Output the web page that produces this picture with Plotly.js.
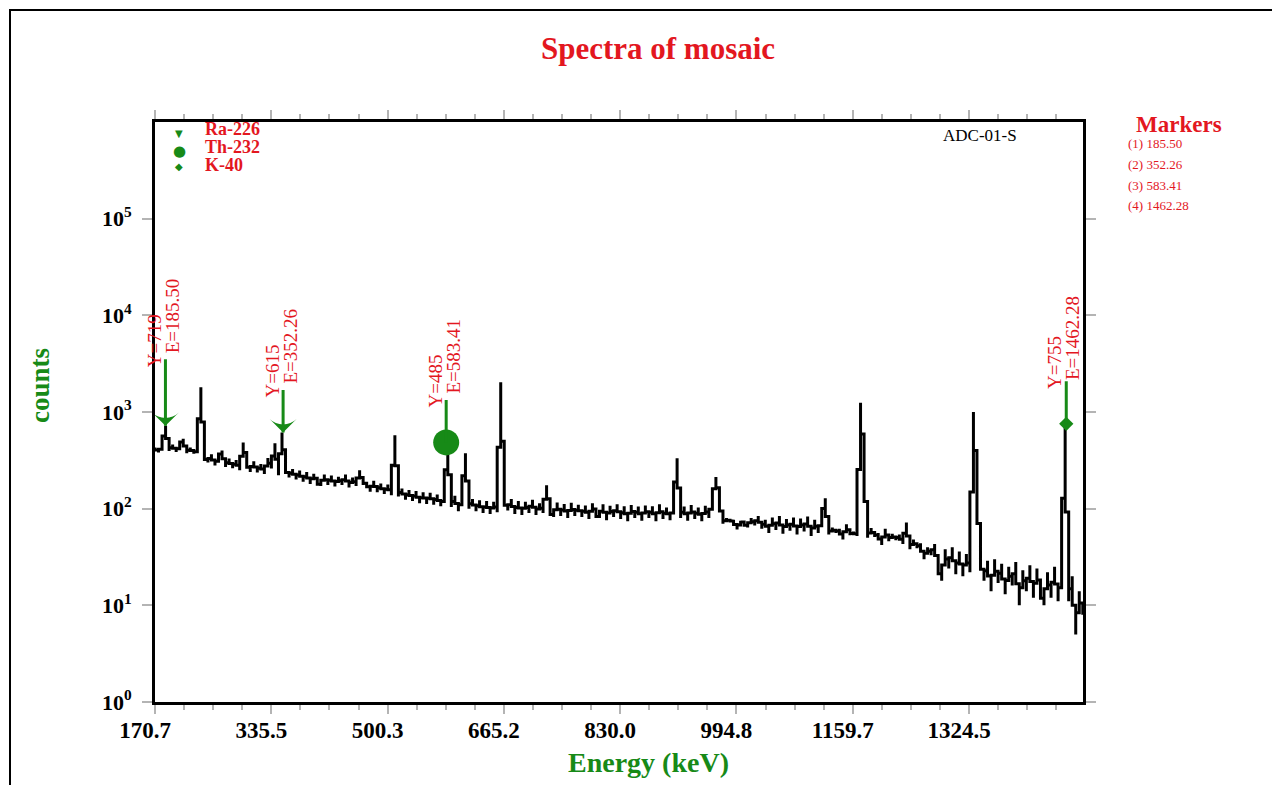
<!DOCTYPE html>
<html>
<head>
<meta charset="utf-8">
<script src="https://cdn.plot.ly/plotly-3.0.1.min.js"></script>
<style>html,body{margin:0;padding:0;background:#fff;}#chart{width:1272px;height:785px;}</style>
</head>
<body>
<div id="chart"></div>
<script>
// ---------- data ----------
const channelStartKeV = 170.7;   // energy of first channel
const keVPerChannel = 5;         // channel width
const counts = [
  430, 380, 445, 719, 395, 460, 385, 450, 530, 375,
  430, 370, 405, 1800, 345, 300, 365, 280, 340, 400,
  270, 330, 262, 318, 250, 485, 300, 240, 310, 236,
  290, 228, 335, 260, 475, 222, 615, 268, 210, 258,
  200, 248, 190, 240, 180, 230, 186, 172, 226, 176,
  220, 170, 214, 176, 226, 166, 210, 172, 250, 176,
  190, 150, 194, 148, 182, 142, 178, 138, 575, 134,
  162, 124, 156, 120, 152, 114, 148, 112, 146, 110,
  140, 106, 132, 485, 104, 136, 94, 128, 375, 100,
  126, 94, 122, 90, 120, 88, 118, 92, 2030, 122,
  96, 126, 88, 120, 86, 118, 90, 124, 86, 114,
  90, 175, 92, 82, 116, 84, 112, 80, 115, 84,
  110, 82, 108, 78, 114, 86, 80, 111, 76, 107,
  82, 111, 78, 106, 74, 109, 80, 105, 75, 108,
  80, 106, 74, 111, 78, 103, 76, 107, 333, 80,
  105, 75, 109, 78, 103, 74, 107, 80, 122, 212,
  128, 70, 80, 72, 77, 61, 75, 71, 64, 80,
  67, 84, 62, 77, 56, 81, 60, 84, 55, 78,
  59, 81, 54, 79, 58, 83, 52, 77, 56, 79,
  128, 54, 64, 56, 62, 48, 69, 53, 58, 52,
  1245, 280, 50, 63, 51, 56, 42, 62, 46, 55,
  47, 54, 43, 72, 38, 48, 39, 44, 30, 40,
  33, 43, 25, 18, 38, 24, 40, 21, 36, 20,
  34, 22, 1000, 160, 31, 18, 29, 14, 30, 17,
  27, 13, 25, 16, 28, 10, 23, 14, 26, 12,
  24, 14, 10, 22, 12, 25, 11, 21, 780, 11,
  20, 5, 14, 8
];
const markerEnergy = [185.50, 352.26, 583.41, 1462.28];
const markerCounts = [719, 615, 485, 755];
const markerNuclide = ['Ra-226', 'Ra-226', 'Th-232', 'K-40'];
const nuclides = ['Ra-226', 'Th-232', 'K-40'];
const xTickLabels = ['170.7', '335.5', '500.3', '665.2', '830.0', '994.8', '1159.7', '1324.5'];
const yTickExponents = [0, 1, 2, 3, 4, 5];
const detectorName = 'ADC-01-S';

// ---------- styles ----------
const RED = '#e3171f';
const GREEN = '#178a17';
const SERIF = 'Liberation Serif, Times New Roman, serif';
const nuclideSymbol = {
  'Ra-226': {symbol: 'arrow-wide', angle: 180, size: 19, glyph: '\u25BC', glyphSize: 10, glyphDy: 4},
  'Th-232': {symbol: 'circle', angle: 0, size: 26, glyph: '\u25CF', glyphSize: 15, glyphDy: 4},
  'K-40':   {symbol: 'diamond', angle: 0, size: 11, glyph: '\u25C6', glyphSize: 10, glyphDy: 1}
};
const markerLabelLift = [24, 0, 0, 0];   // extra pixel lift of each marker's label

const energies = counts.map((_, i) => channelStartKeV + i * keVPerChannel);

const traces = [{
  type: 'scatter', mode: 'lines', x: energies, y: counts, showlegend: false,
  line: {color: '#000', width: 3, shape: 'vhv'}, hoverinfo: 'x+y'
}];
nuclides.forEach(n => {
  const idx = markerNuclide.map((m, i) => m === n ? i : -1).filter(i => i >= 0);
  const s = nuclideSymbol[n];
  traces.push({
    type: 'scatter', mode: 'markers', name: n, showlegend: false,
    x: idx.map(i => markerEnergy[i]), y: idx.map(i => markerCounts[i]),
    marker: {color: GREEN, symbol: s.symbol, angle: s.angle, size: s.size},
    cliponaxis: false
  });
});

// plot area in pixels: left 155, right 1083, top 122, bottom 702
const L = 155, R = 1083, T = 122, B = 702, W = R - L, H = B - T;
const px = x => (x - L) / W;
const py = y => (B - y) / H;

const annotations = [];
markerEnergy.forEach((e, i) => {
  const ly = Math.log10(markerCounts[i]);
  annotations.push({x: e, y: ly, xref: 'x', yref: 'y', text: '', showarrow: true,
    ax: 0, ay: -(44 + markerLabelLift[i]), arrowhead: 0, arrowwidth: 3, arrowcolor: GREEN,
    standoff: 0, startstandoff: 0});
  annotations.push({x: e, y: ly, xref: 'x', yref: 'y', text: 'Y=' + markerCounts[i],
    showarrow: false, textangle: -90, xanchor: 'center', yanchor: 'middle',
    xshift: -11, yshift: 61 + markerLabelLift[i],
    font: {family: SERIF, size: 19, color: RED}});
  annotations.push({x: e, y: ly, xref: 'x', yref: 'y', text: 'E=' + e.toFixed(2),
    showarrow: false, textangle: -90, xanchor: 'center', yanchor: 'middle',
    xshift: 7, yshift: 86 + markerLabelLift[i],
    font: {family: SERIF, size: 19, color: RED}});
});
// legend (nuclide key) in the top-left corner of the plot
nuclides.forEach((n, i) => {
  const s = nuclideSymbol[n];
  annotations.push({x: px(179), y: py(129 + i * 18 + s.glyphDy), xref: 'paper', yref: 'paper',
    xanchor: 'center', yanchor: 'middle', text: s.glyph, showarrow: false,
    font: {family: 'DejaVu Sans', size: s.glyphSize, color: GREEN}});
  annotations.push({x: px(204), y: py(129 + i * 18), xref: 'paper', yref: 'paper',
    xanchor: 'left', yanchor: 'middle', text: n, showarrow: false, borderpad: 0,
    font: {family: SERIF, size: 18, color: RED, weight: 'bold'}});
});
annotations.push({x: px(980), y: py(135), xref: 'paper', yref: 'paper', text: detectorName,
  xanchor: 'center', yanchor: 'middle', showarrow: false,
  font: {family: SERIF, size: 17, color: '#000'}});
annotations.push({x: px(1179), y: py(125), xref: 'paper', yref: 'paper', text: 'Markers',
  xanchor: 'center', yanchor: 'middle', showarrow: false,
  font: {family: SERIF, size: 23, color: RED, weight: 'bold'}});
markerEnergy.forEach((e, i) => {
  annotations.push({x: px(1126), y: py(143 + i * 21), xref: 'paper', yref: 'paper',
    xanchor: 'left', yanchor: 'middle', text: '(' + (i + 1) + ') ' + e.toFixed(2), showarrow: false,
    font: {family: SERIF, size: 13, color: RED}});
});
annotations.push({x: px(40), y: py(386), xref: 'paper', yref: 'paper', text: 'counts',
  xanchor: 'center', yanchor: 'middle',
  textangle: -90, showarrow: false, font: {family: SERIF, size: 27, color: GREEN, weight: 'bold'}});
annotations.push({x: px(648), y: py(762), xref: 'paper', yref: 'paper', text: 'Energy (keV)',
  xanchor: 'center', yanchor: 'middle',
  showarrow: false, font: {family: SERIF, size: 28, color: GREEN, weight: 'bold'}});

const TICKGRAY = '#b4b4b4';
const layout = {
  width: 1272, height: 785,
  paper_bgcolor: '#fff', plot_bgcolor: '#fff',
  margin: {l: L, r: 1272 - R, t: T, b: 785 - B, pad: 0},
  title: {text: 'Spectra of mosaic', x: 658 / 1272, xref: 'container', xanchor: 'center',
          y: 1 - 48 / 785, yref: 'container', yanchor: 'middle',
          font: {family: SERIF, size: 31, color: RED, weight: 'bold'}},
  showlegend: false,
  xaxis: {
    range: [170.7, 1486], showgrid: false, zeroline: false,
    showline: true, linecolor: '#000', linewidth: 3, mirror: 'ticks',
    ticks: 'outside', ticklen: 9, tickwidth: 2, tickcolor: TICKGRAY,
    tickmode: 'array', tickvals: xTickLabels.map(Number), ticktext: xTickLabels,
    ticklabelstandoff: -4, ticklabelshift: -10,
    tickfont: {family: SERIF, size: 23, color: '#000', weight: 'bold'},
    minor: {tick0: 170.7, dtick: 164.83 / 4, ticks: 'outside', ticklen: 5, tickwidth: 2, tickcolor: TICKGRAY}
  },
  yaxis: {
    type: 'log', range: [0, 6], showgrid: false, zeroline: false,
    showline: true, linecolor: '#000', linewidth: 3, mirror: 'ticks',
    ticks: 'outside', ticklen: 10, tickwidth: 2, tickcolor: TICKGRAY,
    tickmode: 'array', tickvals: yTickExponents.map(p => Math.pow(10, p)),
    ticktext: yTickExponents.map(p => '10<sup>' + p + '</sup>'),
    ticklabelstandoff: 6,
    tickfont: {family: SERIF, size: 22, color: '#000', weight: 'bold'}
  },
  annotations: annotations,
  shapes: [{type: 'rect', xref: 'paper', yref: 'paper',
            x0: px(10), x1: px(1300), y0: py(820), y1: py(10),
            line: {color: '#000', width: 2}, fillcolor: 'rgba(0,0,0,0)', layer: 'below'}]
};

Plotly.newPlot('chart', traces, layout, {displayModeBar: false, staticPlot: true});
</script>
</body>
</html>
